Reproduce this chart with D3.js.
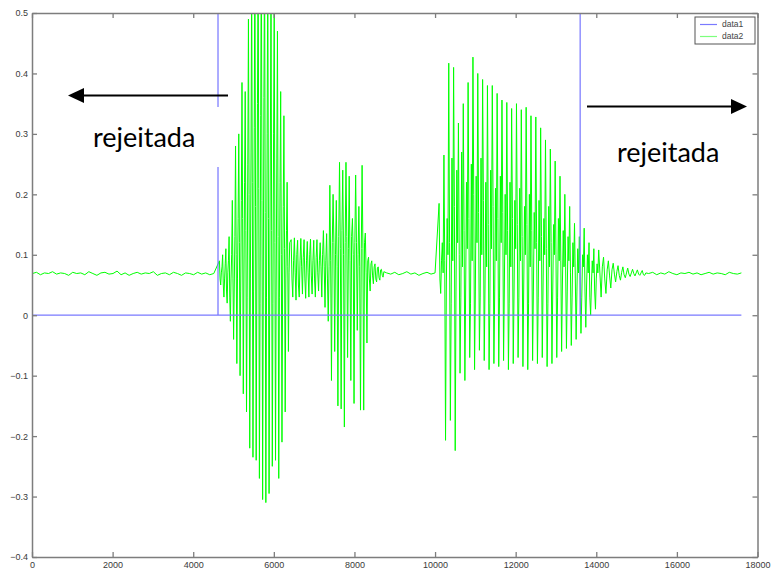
<!DOCTYPE html>
<html>
<head>
<meta charset="utf-8">
<script src="https://cdn.jsdelivr.net/npm/d3@7"></script>
<style>
  body { margin: 0; background: #fff; }
  #container svg { display: block; }
</style>
</head>
<body>
<div id="container"></div>
<script>

// tick values
let xTickValues = [0, 2000, 4000, 6000, 8000, 10000, 12000, 14000, 16000, 18000];
let yTickValues = [-0.4, -0.3, -0.2, -0.1, 0, 0.1, 0.2, 0.3, 0.4, 0.5];

// data1: endpoint markers (sample, value)
let data1Samples = [0, 4614, 4615, 4616, 13599, 13600, 13601, 17600];
let data1Values  = [0, 0, 1, 0, 0, 1, 0, 0];

let onset = [0];

let noiseA = [0.069, 0.071, 0.067, 0.070, 0.069, 0.072, 0.068, 0.070, 0.069, 0.066, 0.071,
  0.069, 0.070, 0.067, 0.072, 0.069, 0.066, 0.070, 0.071, 0.068, 0.069, 0.073, 0.067, 0.070,
  0.066, 0.069, 0.071, 0.068, 0.070, 0.069, 0.072, 0.066, 0.069, 0.070, 0.067, 0.071, 0.069,
  0.066, 0.070, 0.069, 0.067, 0.071, 0.068, 0.070, 0.067, 0.069];

let vowelA = [0.09, 0.06, 0.05, 0.07, 0.08, 0.10, 0.05, 0.03, 0.06, 0.085,
  0.11, 0.04, 0.02, 0.07, 0.09, 0.13, 0.03, -0.01, 0.06, 0.10,
  0.19, 0.06, -0.04, 0.05, 0.13, 0.28, 0.10, -0.08, 0.06, 0.16,
  0.30, 0.12, -0.10, 0.04, 0.19, 0.385, 0.16, -0.13, 0.05, 0.22,
  0.37, 0.14, -0.16, 0.03, 0.25, 0.49, 0.20, -0.22, 0.06, 0.27,
  0.56, 0.22, -0.235, 0.04, 0.31, 0.60, 0.18, -0.24, 0.05, 0.35,
  0.62, 0.21, -0.27, 0.02, 0.33, 0.63, 0.19, -0.305, 0.04, 0.36,
  0.61, 0.17, -0.31, 0.03, 0.30, 0.58, 0.16, -0.295, 0.05, 0.28,
  0.55, 0.14, -0.25, 0.02, 0.30, 0.52, 0.12, -0.24, 0.04, 0.26,
  0.47, 0.13, -0.27, 0.03, 0.22, 0.37, 0.10, -0.21, 0.05, 0.18,
  0.33, 0.11, -0.16, 0.06, 0.14, 0.22, 0.08, -0.06, 0.07, 0.12];

let glideA = [0.125, 0.06, 0.03, 0.09, 0.128, 0.07, 0.025, 0.10, 0.124, 0.05, 0.03, 0.09,
  0.127, 0.08, 0.035, 0.095, 0.125, 0.06, 0.028, 0.09, 0.122, 0.07, 0.03, 0.10,
  0.126, 0.065, 0.035, 0.09, 0.124, 0.06, 0.03, 0.095, 0.125, 0.07, 0.04, 0.09,
  0.12, 0.08, 0.03, 0.10];

let vowelB = [0.14, 0.08, 0.013, 0.09, 0.135, 0.06, -0.01, 0.08, 0.215, 0.09, -0.108, 0.12,
  0.20, 0.12, -0.06, 0.10, 0.19, 0.08, -0.15, 0.13, 0.253, 0.11, -0.155, 0.14,
  0.24, 0.10, -0.185, 0.12, 0.253, 0.13, -0.07, 0.11, 0.23, 0.09, -0.108, 0.13,
  0.16, 0.10, -0.146, 0.12, 0.232, 0.12, -0.025, 0.10, 0.18, 0.08, -0.157, 0.11,
  0.248, 0.11, -0.157, 0.12, 0.136, 0.07, -0.046, 0.09, 0.096, 0.06, 0.04, 0.085,
  0.09, 0.065, 0.052, 0.08, 0.085, 0.06, 0.055, 0.078, 0.08, 0.062, 0.058, 0.075,
  0.076, 0.066, 0.063, 0.072];

let noiseB = [0.070, 0.068, 0.071, 0.067, 0.069, 0.072, 0.068, 0.070, 0.066, 0.069, 0.071, 0.068, 0.070];

let vowelC = [
  0.185, 0.06, 0.036, 0.09, 0.12, 0.07,   0.265, 0.09, -0.207, 0.05, 0.16, 0.10,
  0.417, 0.12, -0.174, 0.02, 0.26, 0.09,  0.41, 0.18, -0.224, 0.04, 0.24, 0.12,
  0.318, 0.10, -0.096, 0.03, 0.27, 0.08,  0.35, 0.14, -0.108, 0.05, 0.22, 0.11,
  0.385, 0.16, -0.07, 0.02, 0.25, 0.09,   0.427, 0.20, -0.09, 0.04, 0.23, 0.12,
  0.40, 0.17, -0.058, 0.03, 0.26, 0.10,   0.39, 0.19, -0.075, 0.05, 0.22, 0.08,
  0.38, 0.15, -0.09, 0.02, 0.24, 0.11,    0.38, 0.18, -0.08, 0.04, 0.21, 0.09,
  0.367, 0.16, -0.085, 0.03, 0.23, 0.12,  0.356, 0.17, -0.075, 0.05, 0.20, 0.10,
  0.352, 0.14, -0.09, 0.02, 0.22, 0.08,   0.342, 0.16, -0.08, 0.04, 0.19, 0.11,
  0.35, 0.15, -0.07, 0.03, 0.21, 0.09,    0.34, 0.13, -0.085, 0.05, 0.18, 0.10,
  0.344, 0.15, -0.09, 0.02, 0.20, 0.08,   0.33, 0.14, -0.075, 0.04, 0.17, 0.11,
  0.328, 0.12, -0.08, 0.03, 0.19, 0.09,   0.31, 0.13, -0.07, 0.05, 0.16, 0.10,
  0.29, 0.11, -0.085, 0.02, 0.18, 0.08,   0.275, 0.12, -0.08, 0.04, 0.15, 0.10,
  0.255, 0.10, -0.07, 0.03, 0.16, 0.09,   0.23, 0.09, -0.06, 0.05, 0.14, 0.08,
  0.20, 0.08, -0.055, 0.04, 0.13, 0.09,   0.18, 0.07, -0.05, 0.03, 0.12, 0.08,
  0.152, 0.06, -0.04, 0.04, 0.11, 0.07,   0.13, 0.05, -0.03, 0.03, 0.10, 0.08,
  0.144, 0.04, -0.02, 0.05, 0.10, 0.07,   0.12, 0.03, 0.0, 0.05, 0.09, 0.07,
  0.11, 0.04, 0.01, 0.06, 0.085, 0.07];

let tailC = [0.108, 0.07, 0.03, 0.08, 0.096, 0.06, 0.036, 0.075, 0.09, 0.065, 0.045, 0.075,
  0.086, 0.068, 0.055, 0.072, 0.082, 0.066, 0.058, 0.071, 0.08, 0.067, 0.062, 0.07,
  0.078, 0.068, 0.064, 0.07, 0.076, 0.069, 0.065, 0.07, 0.075, 0.068, 0.066, 0.07,
  0.074, 0.067, 0.066, 0.07];

let noiseC = [0.069, 0.071, 0.067, 0.070, 0.068, 0.072, 0.069, 0.067, 0.070, 0.069, 0.071, 0.068,
  0.070, 0.067, 0.069, 0.071, 0.068, 0.070, 0.069, 0.067, 0.071, 0.069, 0.068, 0.070];

let segments = [
  { start: 0, step: 1, values: onset },
  { start: 10, step: 100, values: noiseA },
  { start: 4650, step: 16, values: vowelA },
  { start: 6430, step: 20, values: glideA },
  { start: 7230, step: 20, values: vowelB },
  { start: 8800, step: 100, values: noiseB },
  { start: 10100, step: 20, values: vowelC },
  { start: 14060, step: 30, values: tailC },
  { start: 15300, step: 100, values: noiseC }
];


let w = 771;
let h = 572;
let padLeft = 32, padRight = 757.5, padTop = 13, padBottom = 557;
let axisColor = "#7d7d7d";
let labelColor = "#3a3a3a";

let viz = d3.select("#container")
  .append("svg")
    .attr("width", w)
    .attr("height", h)
;

let xScale = d3.scaleLinear().domain([0, 18000]).range([padLeft, padRight]);
let yScale = d3.scaleLinear().domain([-0.4, 0.5]).range([padBottom, padTop]);

viz.append("clipPath")
    .attr("id", "plotclip")
  .append("rect")
    .attr("x", padLeft)
    .attr("y", padTop)
    .attr("width", padRight - padLeft)
    .attr("height", padBottom - padTop)
;

// build point lists
let data1 = data1Samples.map(function(s, i){
  return { x: s, y: data1Values[i] };
});
let data2 = [];
segments.forEach(function(seg){
  seg.values.forEach(function(v, i){
    data2.push({ x: seg.start + i * seg.step, y: v });
  });
});

let lineMaker = d3.line()
  .x(function(d){ return xScale(d.x); })
  .y(function(d){ return yScale(d.y); })
;

let plot = viz.append("g").attr("clip-path", "url(#plotclip)");

plot.append("path")
    .datum(data2)
    .attr("d", lineMaker)
    .attr("fill", "none")
    .attr("stroke", "#00ff00")
    .attr("stroke-width", 1)
;

plot.append("path")
    .datum(data1)
    .attr("d", lineMaker)
    .attr("fill", "none")
    .attr("stroke", "#7a7aff")
    .attr("stroke-width", 1.2)
;

// axes, matlab style box with inward ticks
function styleAxis(g){
  g.select(".domain").attr("stroke", axisColor).attr("stroke-width", 1.5);
  g.selectAll(".tick line").attr("stroke", axisColor).attr("stroke-width", 1.3);
  g.selectAll(".tick text")
    .attr("fill", labelColor)
    .style("font-family", "'Liberation Sans', Arial, sans-serif")
    .style("font-size", "9px");
}

let xAxisGroup = viz.append("g")
    .attr("transform", "translate(0," + padBottom + ")")
    .call(d3.axisBottom(xScale).tickValues(xTickValues).tickFormat(d3.format("d"))
      .tickSizeInner(-5).tickSizeOuter(0).tickPadding(5))
;
styleAxis(xAxisGroup);

let xTopGroup = viz.append("g")
    .attr("transform", "translate(0," + padTop + ")")
    .call(d3.axisTop(xScale).tickValues(xTickValues).tickFormat("")
      .tickSizeInner(-5).tickSizeOuter(0))
;
styleAxis(xTopGroup);

let yAxisGroup = viz.append("g")
    .attr("transform", "translate(" + padLeft + ",0)")
    .call(d3.axisLeft(yScale).tickValues(yTickValues).tickFormat(d3.format("~g"))
      .tickSizeInner(-5).tickSizeOuter(0).tickPadding(4))
;
styleAxis(yAxisGroup);

let yRightGroup = viz.append("g")
    .attr("transform", "translate(" + padRight + ",0)")
    .call(d3.axisRight(yScale).tickValues(yTickValues).tickFormat("")
      .tickSizeInner(-5).tickSizeOuter(0))
;
styleAxis(yRightGroup);

// legend
let legend = viz.append("g").attr("transform", "translate(695,17)");
legend.append("rect")
    .attr("width", 60)
    .attr("height", 27)
    .attr("fill", "#fff")
    .attr("stroke", "#555")
    .attr("stroke-width", 1)
;
let legendItems = [
  { name: "data1", color: "#7a7aff" },
  { name: "data2", color: "#7dff7d" }
];
legendItems.forEach(function(item, i){
  let yy = 7.5 + i * 12;
  legend.append("line")
      .attr("x1", 5).attr("x2", 22)
      .attr("y1", yy).attr("y2", yy)
      .attr("stroke", item.color)
      .attr("stroke-width", 1.2)
  ;
  legend.append("text")
      .attr("x", 27)
      .attr("y", yy)
      .attr("dy", "0.35em")
      .attr("fill", "#444")
      .style("font-family", "'Liberation Sans', Arial, sans-serif")
      .style("font-size", "8.5px")
      .text(item.name)
  ;
});

// annotations
viz.append("rect")
    .attr("x", 85).attr("y", 107)
    .attr("width", 141).attr("height", 60)
    .attr("fill", "#fff")
;

function arrow(x1, x2, y){
  let dir = x2 > x1 ? 1 : -1;
  viz.append("line")
      .attr("x1", x1).attr("x2", x2 - dir * 14)
      .attr("y1", y).attr("y2", y)
      .attr("stroke", "#000")
      .attr("stroke-width", 2)
  ;
  viz.append("path")
      .attr("d", "M" + x2 + "," + y + "L" + (x2 - dir * 16) + "," + (y - 7.5) +
                 "L" + (x2 - dir * 16) + "," + (y + 7.5) + "Z")
      .attr("fill", "#000")
  ;
}
arrow(228, 68, 95.5);
arrow(587, 747, 106.5);

let noteFont = "Lato, 'Open Sans', sans-serif";
viz.append("text")
    .attr("x", 93).attr("y", 147)
    .style("font-family", noteFont)
    .style("font-size", "27px")
    .attr("fill", "#000")
    .text("rejeitada")
;
viz.append("text")
    .attr("x", 617).attr("y", 162)
    .style("font-family", noteFont)
    .style("font-size", "27px")
    .attr("fill", "#000")
    .text("rejeitada")
;

</script>
</body>
</html>
